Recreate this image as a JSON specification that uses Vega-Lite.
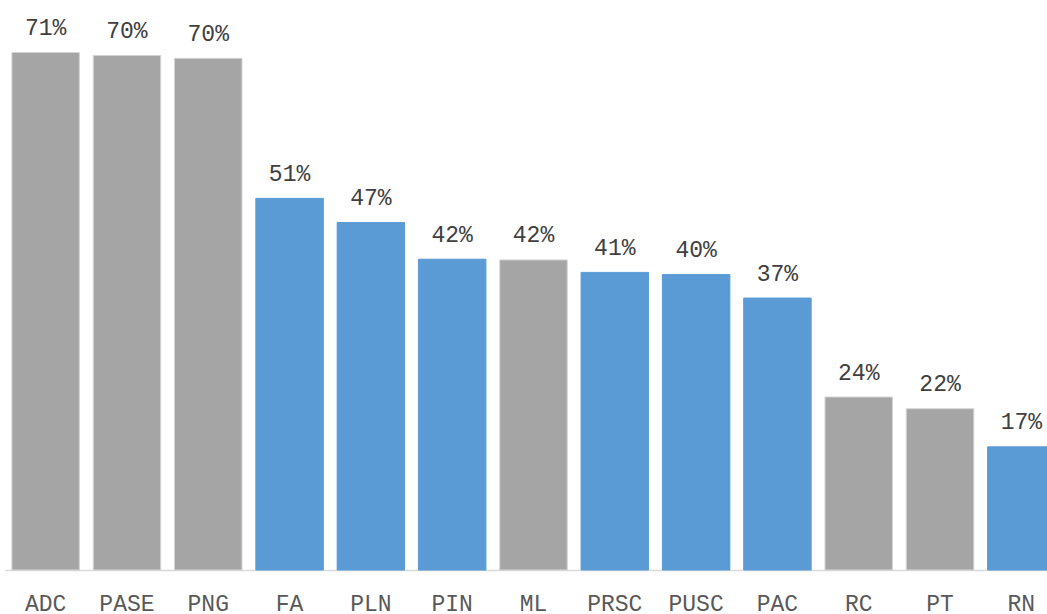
{
  "$schema": "https://vega.github.io/schema/vega-lite/v6.json",
  "autosize": "none",
  "width": 1047,
  "height": 570,
  "padding": {"left": 0, "top": 0, "right": 0, "bottom": 44},
  "background": "#ffffff",
  "config": {"view": {"stroke": null}},
  "data": {
    "values": [
      {"party": "ADC", "share": 0.706, "group": "gray"},
      {"party": "PASE", "share": 0.702, "group": "gray"},
      {"party": "PNG", "share": 0.698, "group": "gray"},
      {"party": "FA", "share": 0.507, "group": "blue"},
      {"party": "PLN", "share": 0.474, "group": "blue"},
      {"party": "PIN", "share": 0.424, "group": "blue"},
      {"party": "ML", "share": 0.423, "group": "gray"},
      {"party": "PRSC", "share": 0.406, "group": "blue"},
      {"party": "PUSC", "share": 0.403, "group": "blue"},
      {"party": "PAC", "share": 0.371, "group": "blue"},
      {"party": "RC", "share": 0.236, "group": "gray"},
      {"party": "PT", "share": 0.22, "group": "gray"},
      {"party": "RN", "share": 0.168, "group": "blue"}
    ]
  },
  "encoding": {
    "x": {
      "field": "party",
      "type": "nominal",
      "sort": null,
      "scale": {"range": [5, 1062], "paddingInner": 0.17, "paddingOuter": 0.085},
      "axis": {
        "title": null,
        "labelAngle": 0,
        "ticks": false,
        "labelPadding": 40,
        "labelBaseline": "alphabetic",
        "labelFont": "Liberation Mono",
        "labelFontSize": 23,
        "labelColor": "#595959",
        "domainColor": "#d9d9d9",
        "domainWidth": 1.5,
        "grid": false
      }
    },
    "y": {
      "field": "share",
      "type": "quantitative",
      "scale": {"domain": [0, 0.7776], "nice": false, "zero": true},
      "axis": null
    }
  },
  "layer": [
    {
      "mark": {"type": "bar", "strokeWidth": 1},
      "encoding": {
        "color": {
          "field": "group",
          "type": "nominal",
          "scale": {"domain": ["gray", "blue"], "range": ["#a5a5a5", "#5b9bd5"]},
          "legend": null
        },
        "stroke": {
          "field": "group",
          "type": "nominal",
          "scale": {"domain": ["gray", "blue"], "range": ["#d4d4d4", "#5b9bd5"]},
          "legend": null
        }
      }
    },
    {
      "mark": {
        "type": "text",
        "font": "Liberation Mono",
        "fontSize": 23,
        "color": "#404040",
        "baseline": "alphabetic",
        "dy": -17.5
      },
      "encoding": {
        "text": {"field": "share", "type": "quantitative", "format": ".0%"}
      }
    }
  ]
}
